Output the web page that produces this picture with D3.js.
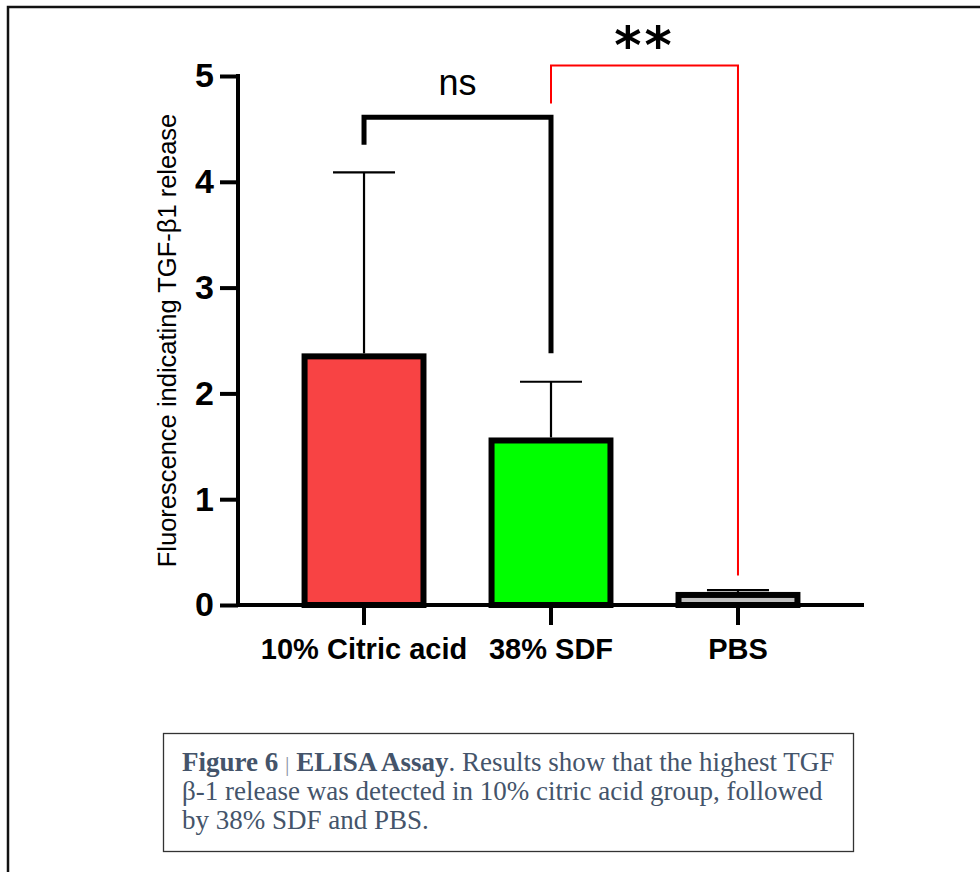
<!DOCTYPE html>
<html>
<head>
<meta charset="utf-8">
<script src="https://cdn.jsdelivr.net/npm/d3@7"></script>
<style>
  body { margin: 0; background: #fff; }
  svg { display: block; }
</style>
</head>
<body>
<svg id="chart" width="980" height="872"></svg>
<script>
// Data
var groups = ["10% Citric acid", "38% SDF", "PBS"];
var means = [2.35, 1.555, 0.095];
var upper = [4.09, 2.11, 0.14];        // mean + error (top of whisker)
var fills = ["#f84344", "#00ff00", "#c0c0c0"];
var yTicks = [0, 1, 2, 3, 4, 5];

// significance brackets: group indexes, bracket top, leg ends (value units)
var comparisons = [
  { a: 0, b: 1, top: 4.61, legA: 4.35, legB: 2.38, label: "ns", labelAt: 4.82 },
  { a: 1, b: 2, top: 5.10, legA: 4.74, legB: 0.28, label: "**", labelAt: 5.35 }
];

var captionLines = [
  [ {t: "Figure 6", b: true}, {t: " "}, {t: "|", bar: true}, {t: " "}, {t: "ELISA Assay", b: true},
    {t: ". Results show that the highest TGF"} ],
  [ {t: "β-1 release was detected in 10% citric acid group, followed"} ],
  [ {t: "by 38% SDF and PBS."} ]
];

(function() {
var svg = d3.select("#chart");
var sans = "'Liberation Sans', Arial, sans-serif";

// outer frame (runs off the right and bottom edge)
svg.append("rect")
  .attr("x", 8).attr("y", 7)
  .attr("width", 1000).attr("height", 900)
  .attr("fill", "none").attr("stroke", "#111").attr("stroke-width", 2.5);

var plotLeft = 238, plotRight = 864, plotTop = 76, plotBottom = 605;

var x = d3.scaleBand().domain(groups).range([plotLeft, plotRight])
  .paddingInner(0.364).paddingOuter(0.356);
var y = d3.scaleLinear().domain([0, 5]).range([plotBottom, plotTop]);
var cx = function(i) { return x(groups[i]) + x.bandwidth() / 2; };

// bars
svg.selectAll("rect.bar")
  .data(groups)
  .enter()
  .append("rect")
    .attr("class", "bar")
    .attr("x", function(d) { return x(d); })
    .attr("y", function(d, i) { return y(means[i]); })
    .attr("width", x.bandwidth())
    .attr("height", function(d, i) { return plotBottom - y(means[i]); })
    .attr("fill", function(d, i) { return fills[i]; })
    .attr("stroke", "#000")
    .attr("stroke-width", 6);

// error bars (upper only)
var err = svg.append("g").attr("stroke", "#000").attr("stroke-width", 2.2);
groups.forEach(function(d, i) {
  err.append("line")
    .attr("x1", cx(i)).attr("x2", cx(i))
    .attr("y1", y(means[i]) - 3).attr("y2", y(upper[i]));
  err.append("line")
    .attr("x1", cx(i) - 31).attr("x2", cx(i) + 31)
    .attr("y1", y(upper[i])).attr("y2", y(upper[i]));
});

// y axis
var yAxis = svg.append("g")
  .attr("transform", "translate(" + plotLeft + ",0)")
  .call(d3.axisLeft(y).tickValues(yTicks).tickFormat(d3.format("d")).tickSize(18).tickSizeOuter(0).tickPadding(6));
yAxis.select(".domain").attr("stroke-width", 4).attr("d", "M0," + (plotBottom + 2) + "V" + (plotTop - 2));
yAxis.selectAll(".tick line").attr("stroke-width", 4);
yAxis.selectAll(".tick text")
  .attr("font-family", sans).attr("font-weight", "bold")
  .attr("font-size", 34).attr("fill", "#000");

// x axis
var xAxis = svg.append("g")
  .attr("transform", "translate(0," + plotBottom + ")")
  .call(d3.axisBottom(x).tickSize(20).tickSizeOuter(0).tickPadding(13));
xAxis.select(".domain").attr("stroke-width", 4).attr("d", "M" + (plotLeft - 2) + ",0H" + plotRight);
xAxis.selectAll(".tick line").attr("stroke-width", 4);
xAxis.selectAll(".tick text")
  .attr("font-family", sans).attr("font-weight", "bold")
  .attr("font-size", 29).attr("fill", "#000");

// y axis title
svg.append("text")
  .attr("transform", "translate(176," + ((plotTop + plotBottom) / 2) + ") rotate(-90)")
  .attr("text-anchor", "middle")
  .attr("font-family", sans).attr("font-size", 25.5)
  .text("Fluorescence indicating TGF-β1 release");

// significance brackets
comparisons.forEach(function(c, k) {
  var xa = cx(c.a), xb = cx(c.b);
  var red = k === 1;
  svg.append("path")
    .attr("d", "M" + xa + "," + y(c.legA) + "V" + y(c.top) + "H" + xb + "V" + y(c.legB))
    .attr("fill", "none")
    .attr("stroke", red ? "#ff0000" : "#000")
    .attr("stroke-width", red ? 2 : 5);
  svg.append("text")
    .attr("x", (xa + xb) / 2)
    .attr("y", red ? y(c.labelAt) + 24 : y(c.labelAt))
    .attr("text-anchor", "middle")
    .attr("font-family", red ? "'DejaVu Sans', sans-serif" : sans)
    .attr("font-weight", red ? "bold" : "normal")
    .attr("font-size", red ? 52 : 36)
    .attr("letter-spacing", red ? 3 : 0)
    .text(c.label);
});

// caption box
svg.append("rect")
  .attr("x", 163.5).attr("y", 733.5).attr("width", 690).attr("height", 118)
  .attr("fill", "#fff").attr("stroke", "#333").attr("stroke-width", 1.3);

var cap = svg.append("text")
  .attr("font-family", "'Liberation Serif', 'Times New Roman', serif")
  .attr("font-size", 27).attr("fill", "#44546a");
captionLines.forEach(function(line, li) {
  line.forEach(function(seg, si) {
    var ts = cap.append("tspan").text(seg.t);
    if (si === 0) ts.attr("x", 182).attr("y", 771 + li * 29);
    if (seg.b) ts.attr("font-weight", "bold");
    if (seg.bar) ts.attr("font-weight", "normal").attr("fill", "#8a94a4").attr("font-size", 22);
  });
});
})();
</script>
</body>
</html>
